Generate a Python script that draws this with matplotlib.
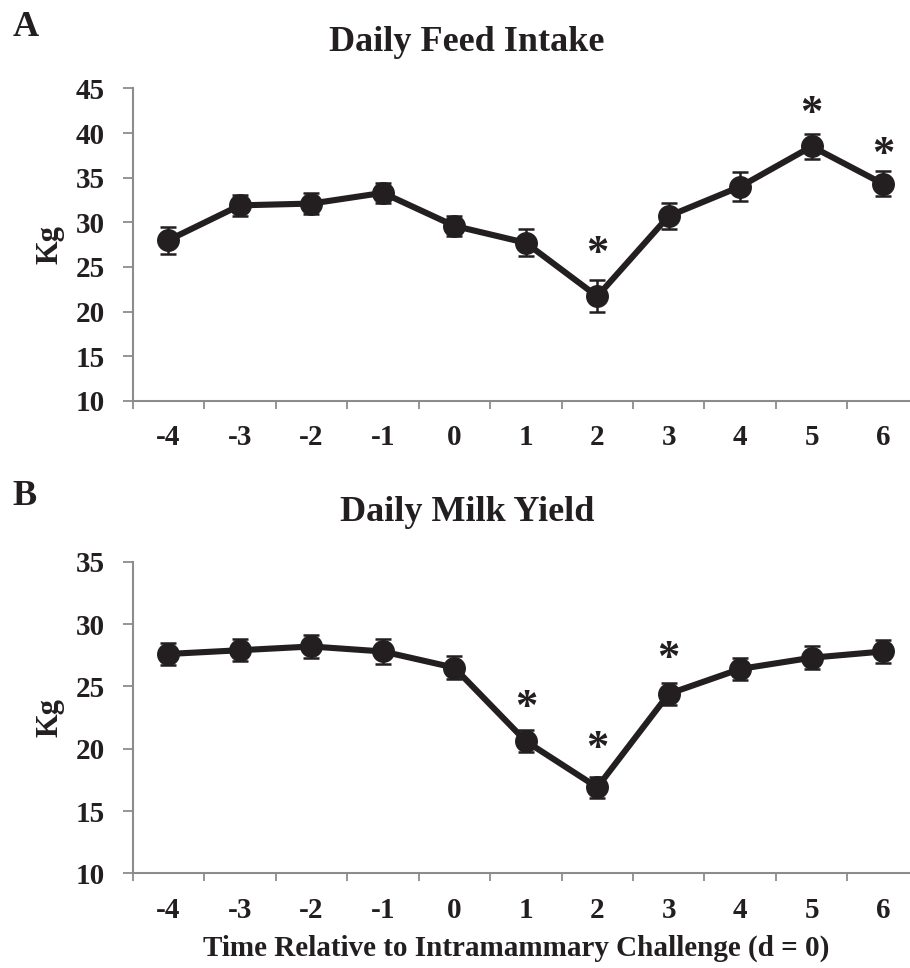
import numpy as np
import matplotlib
matplotlib.use("Agg")
import matplotlib.pyplot as plt

plt.rcParams['font.family'] = ['Liberation Serif', 'DejaVu Serif']
plt.rcParams['font.weight'] = 'bold'
plt.rcParams['axes.titleweight'] = 'bold'
plt.rcParams['axes.labelweight'] = 'bold'

days = ['-4', '-3', '-2', '-1', '0', '1', '2', '3', '4', '5', '6']

feed = [28.0, 31.9, 32.1, 33.3, 29.6, 27.7, 21.7, 30.7, 34.0, 38.5, 34.3]
feed_se = [1.5, 1.2, 1.2, 1.1, 1.1, 1.5, 1.8, 1.5, 1.6, 1.35, 1.4]
feed_star = [6, 9, 10]
feed_star_y = [26.4, 42.1, 37.5]

milk = [27.6, 27.9, 28.2, 27.8, 26.5, 20.6, 16.9, 24.4, 26.4, 27.3, 27.8]
milk_se = [0.9, 0.9, 0.9, 1.0, 0.9, 0.9, 0.85, 0.9, 0.9, 0.9, 0.9]
milk_star = [5, 6, 7]
milk_star_y = [23.3, 20.0, 27.2]

ink = '#231f20'
grey = '#8c8c8c'

fig = plt.figure(figsize=(9.1, 9.68), dpi=100)
ax1 = fig.add_axes([0.1458, 0.586, 0.864, 0.3226])
ax2 = fig.add_axes([0.1458, 0.0978, 0.864, 0.3219])


def panel(ax, vals, se, stars, star_y, ylim, title, pad):
    x = np.arange(len(days))
    ax.errorbar(x, vals, yerr=se, color=ink, lw=4.4, marker='o', ms=15.5,
                mfc=ink, mec=ink, ecolor=ink, elinewidth=1.8, capsize=6,
                capthick=1.8, zorder=3)
    for i, y in zip(stars, star_y):
        ax.text(x[i], y, '*', ha='center', va='center', fontsize=32,
                color=ink)
    ax.set_xlim(-0.5, 10.5)
    ax.set_ylim(*ylim)
    ax.set_yticks(np.arange(ylim[0], ylim[1] + 1, 5))
    ax.set_xticks(x, days)
    ax.set_xticks(np.arange(-0.5, 10.6, 1), minor=True)
    ax.tick_params(axis='x', which='major', length=0, pad=17, labelsize=21,
                   labelcolor=ink)
    ax.tick_params(axis='x', which='minor', length=6, width=1.3, color=grey)
    ax.tick_params(axis='y', length=7, width=1.3, color=grey, pad=13,
                   labelsize=21, labelcolor=ink)
    for s in ['top', 'right']:
        ax.spines[s].set_visible(False)
    for s in ['left', 'bottom']:
        ax.spines[s].set_color(grey)
        ax.spines[s].set_linewidth(1.5)
    ax.set_ylabel('Kg', fontsize=22, color=ink, labelpad=8)
    ax.set_title(title, fontsize=26, color=ink, pad=pad, x=0.425)


panel(ax1, feed, feed_se, feed_star, feed_star_y, (10, 45),
      'Daily Feed Intake', 27)
panel(ax2, milk, milk_se, milk_star, milk_star_y, (10, 35),
      'Daily Milk Yield', 29)

fig.text(0.014, 0.972, 'A', fontsize=26, color=ink, ha='left', va='center')
fig.text(0.014, 0.487, 'B', fontsize=26, color=ink, ha='left', va='center')

ax2.set_xlabel('Time Relative to Intramammary Challenge (d = 0)',
               fontsize=21, color=ink, labelpad=8, x=0.4875)

fig.savefig('out.png', dpi=100)
